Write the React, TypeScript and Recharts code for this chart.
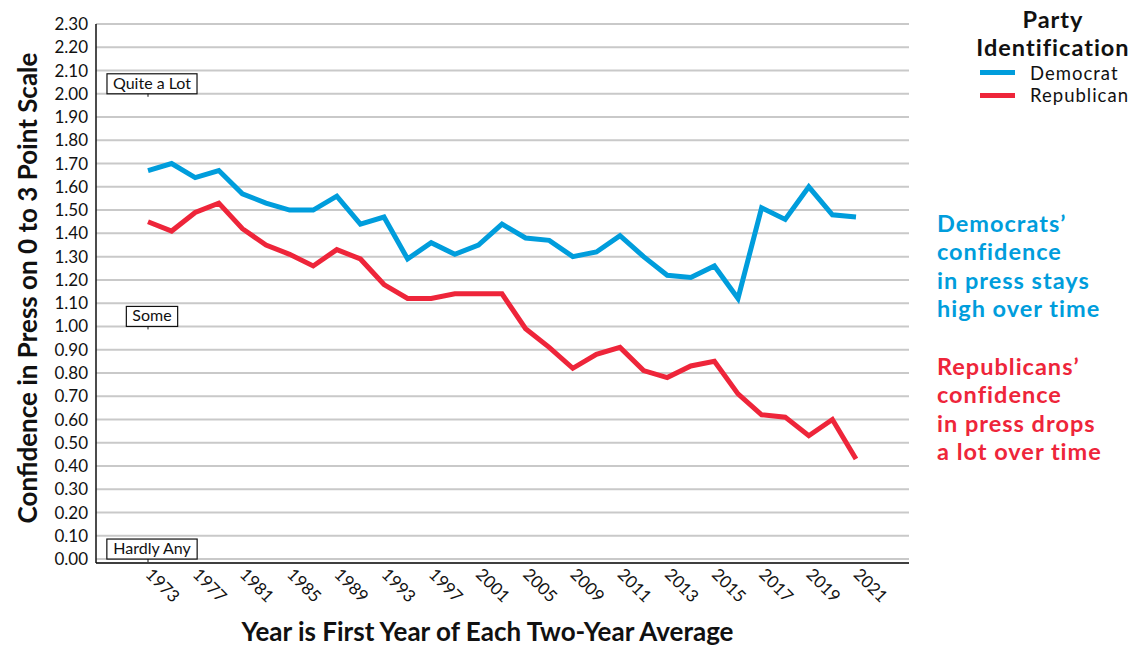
import { LineChart, Line, XAxis, YAxis, CartesianGrid, ReferenceDot } from 'recharts';

const years = [
  '1973', '1975', '1977', '1979', '1981', '1983', '1985', '1987', '1989', '1991',
  '1993', '1995', '1997', '1999', '2001', '2003', '2005', '2007', '2009', '2010',
  '2011', '2012', '2013', '2014', '2015', '2016', '2017', '2018', '2019', '2020', '2021',
];

const democrat = [
  1.67, 1.70, 1.64, 1.67, 1.57, 1.53, 1.50, 1.50, 1.56, 1.44,
  1.47, 1.29, 1.36, 1.31, 1.35, 1.44, 1.38, 1.37, 1.30, 1.32,
  1.39, 1.30, 1.22, 1.21, 1.26, 1.12, 1.51, 1.46, 1.60, 1.48, 1.47,
];

const republican = [
  1.45, 1.41, 1.49, 1.53, 1.42, 1.35, 1.31, 1.26, 1.33, 1.29,
  1.18, 1.12, 1.12, 1.14, 1.14, 1.14, 0.99, 0.91, 0.82, 0.88,
  0.91, 0.81, 0.78, 0.83, 0.85, 0.71, 0.62, 0.61, 0.53, 0.60, 0.43,
];

const yTicks = [
  0, 0.1, 0.2, 0.3, 0.4, 0.5, 0.6, 0.7, 0.8, 0.9, 1.0, 1.1,
  1.2, 1.3, 1.4, 1.5, 1.6, 1.7, 1.8, 1.9, 2.0, 2.1, 2.2, 2.3,
];

const scaleLabels = ['Hardly Any', 'Some', 'Quite a Lot'];
const scaleValues = [0, 1, 2];

const seriesNames = ['Democrat', 'Republican'];

const demNote = ['Democrats’', 'confidence', 'in press stays', 'high over time'];
const repNote = ['Republicans’', 'confidence', 'in press drops', 'a lot over time'];

const BLUE = '#009DDC';
const RED = '#EE253A';
const FONT = 'Lato, "Open Sans", sans-serif';

const data = years.map((year, i) => ({
  year,
  democrat: democrat[i],
  republican: republican[i],
}));

const measure = (text: string, font: string) => {
  const ctx = document.createElement('canvas').getContext('2d');
  if (!ctx) return text.length * 8;
  ctx.font = font;
  return ctx.measureText(text).width;
};

// boxed scale anchor sitting on its gridline above the first year
const AnchorBox = ({ cx, cy, text }: { cx?: number; cy?: number; text: string }) => {
  if (cx == null || cy == null) return null;
  const w = measure(text, `16px ${FONT}`) + 12;
  const h = 20;
  const mid = cx + 4;
  return (
    <g>
      <rect x={mid - w / 2} y={cy - h} width={w} height={h} fill="#fff" stroke="#111" strokeWidth={1.2} />
      <line x1={cx} x2={cx} y1={cy} y2={cy + 3} stroke="#111" strokeWidth={1} />
      <text x={mid} y={cy - 5} textAnchor="middle" fontSize={16} fill="#111" fontFamily={FONT}>
        {text}
      </text>
    </g>
  );
};

const YearTick = ({ x, y, payload }: any) => (
  <text
    transform={`translate(${x + 5},${y - 2}) rotate(45)`}
    dy="0.71em"
    fontSize={17}
    fill="#111"
    fontFamily={FONT}
  >
    {payload.value}
  </text>
);

const Note = ({ lines, top, color }: { lines: string[]; top: number; color: string }) => (
  <div
    style={{
      position: 'absolute',
      left: 937,
      top,
      color,
      fontWeight: 700,
      fontSize: 23.5,
      letterSpacing: 1,
      lineHeight: '28.5px',
      whiteSpace: 'nowrap',
    }}
  >
    {lines.map((l) => (
      <div key={l}>{l}</div>
    ))}
  </div>
);

export default function App() {
  const colors = [BLUE, RED];
  return (
    <div style={{ position: 'absolute', left: 0, top: 0, width: 1136, height: 646, background: '#fff', fontFamily: FONT }}>
      <LineChart width={1136} height={646} data={data} margin={{ top: 24, right: 227, bottom: 0, left: 36 }}>
        <CartesianGrid vertical={false} stroke="#c9c9c9" strokeWidth={2} />
        <XAxis
          dataKey="year"
          interval={1}
          padding={{ left: 52, right: 53 }}
          height={83}
          tickLine={false}
          axisLine={{ stroke: '#111', strokeWidth: 1.5 }}
          tick={<YearTick />}
          tickMargin={0}
        />
        <YAxis
          width={60}
          domain={[-0.017, 2.3]}
          ticks={yTicks}
          interval={0}
          tickFormatter={(v: number) => v.toFixed(2)}
          tickLine={false}
          axisLine={{ stroke: '#111', strokeWidth: 1.5 }}
          tick={{ fontSize: 17, fill: '#111', fontFamily: FONT }}
        />
        <Line
          name="Democrat"
          dataKey="democrat"
          stroke={BLUE}
          strokeWidth={5}
          dot={false}
          type="linear"
          isAnimationActive={false}
        />
        <Line
          name="Republican"
          dataKey="republican"
          stroke={RED}
          strokeWidth={5}
          dot={false}
          type="linear"
          isAnimationActive={false}
        />
        {scaleValues.map((v, i) => (
          <ReferenceDot
            key={scaleLabels[i]}
            x={years[0]}
            y={v}
            r={0}
            shape={(p: any) => <AnchorBox cx={p.cx} cy={p.cy} text={scaleLabels[i]} />}
          />
        ))}
      </LineChart>

      {/* legend */}
      <div style={{ position: 'absolute', left: 953, top: 5, width: 200, color: '#111' }}>
        <div style={{ textAlign: 'center', fontWeight: 700, fontSize: 23.5, letterSpacing: 1, lineHeight: '28.4px' }}>
          <div>Party</div>
          <div>Identification</div>
        </div>
        {seriesNames.map((name, i) => (
          <div key={name} style={{ display: 'flex', alignItems: 'center', height: 22.3 }}>
            <span style={{ display: 'inline-block', width: 35, height: 5, background: colors[i], marginLeft: 27, marginRight: 15 }} />
            <span style={{ fontSize: 18.5, letterSpacing: 1 }}>{name}</span>
          </div>
        ))}
      </div>

      <div
        style={{
          position: 'absolute',
          left: 27,
          top: 288,
          transform: 'translate(-50%, -50%) rotate(-90deg)',
          fontWeight: 700,
          fontSize: 26,
          whiteSpace: 'nowrap',
          color: '#111',
        }}
      >
        Confidence in Press on 0 to 3 Point Scale
      </div>
      <div
        style={{
          position: 'absolute',
          left: 487.5,
          top: 631,
          transform: 'translate(-50%, -50%)',
          fontWeight: 700,
          fontSize: 26,
          whiteSpace: 'nowrap',
          color: '#111',
        }}
      >
        Year is First Year of Each Two-Year Average
      </div>

      <Note lines={demNote} top={208.5} color={BLUE} />
      <Note lines={repNote} top={351.8} color={RED} />
    </div>
  );
}
